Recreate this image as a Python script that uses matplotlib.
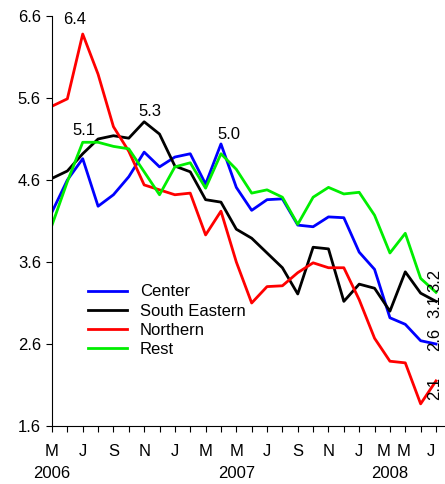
import matplotlib
matplotlib.use('Agg')
import matplotlib.pyplot as plt
import numpy as np

plt.rcParams['font.family'] = ['Liberation Sans', 'DejaVu Sans']

# monthly series, May 2006 .. Jun 2008
months = np.arange(26)
center = [4.21, 4.60, 4.86, 4.28, 4.42, 4.64, 4.94, 4.76, 4.88, 4.92, 4.55, 5.04, 4.51,
          4.23, 4.36, 4.37, 4.05, 4.03, 4.15, 4.14, 3.72, 3.51, 2.92, 2.84, 2.64, 2.60]
south_eastern = [4.62, 4.71, 4.92, 5.10, 5.14, 5.11, 5.31, 5.16, 4.77, 4.70, 4.36, 4.33, 4.00,
                 3.89, 3.71, 3.53, 3.21, 3.78, 3.76, 3.12, 3.33, 3.28, 3.00, 3.48, 3.22, 3.12]
northern = [5.50, 5.59, 6.38, 5.89, 5.25, 4.95, 4.54, 4.48, 4.42, 4.44, 3.93, 4.22, 3.60,
            3.10, 3.30, 3.31, 3.47, 3.59, 3.53, 3.53, 3.14, 2.67, 2.39, 2.37, 1.87, 2.15]
rest = [4.05, 4.58, 5.06, 5.06, 5.01, 4.98, 4.70, 4.42, 4.76, 4.81, 4.50, 4.92, 4.73,
        4.44, 4.48, 4.39, 4.06, 4.39, 4.51, 4.43, 4.45, 4.17, 3.71, 3.95, 3.40, 3.23]

month_labels = ['M', 'J', 'S', 'N', 'J', 'M', 'M', 'J', 'S', 'N', 'J', 'M', 'M', 'J']
month_pos = [0, 2, 4, 6, 8, 10, 12, 14, 16, 18, 20, 21.6, 22.9, 24.7]
year_labels = ['2006', '2007', '2008']
year_pos = [0, 12, 22]

# peak annotations: (text, x, y)
peaks = [('6.4', 1.5, 6.56), ('5.1', 2.08, 5.20), ('5.3', 6.38, 5.44), ('5.0', 11.52, 5.16)]
# last values, written sideways at the right edge
ends = [('3.2', 3.38), ('3.1', 3.06), ('2.6', 2.66), ('2.1', 2.06)]

fig = plt.figure(figsize=(4.45, 4.84), dpi=100)
ax = fig.add_axes([52/445, 1 - 426/484, 393/445, 410/484])

ax.plot(months, center, color='blue', lw=2, label='Center')
ax.plot(months, south_eastern, color='black', lw=2, label='South Eastern')
ax.plot(months, northern, color='red', lw=2, label='Northern')
ax.plot(months, rest, color='#00ee00', lw=2, label='Rest')

ax.set_xlim(0, 393/15.36)
ax.set_ylim(1.6, 6.6)
ax.set_yticks([1.6, 2.6, 3.6, 4.6, 5.6, 6.6])
ax.set_yticklabels(['1.6', '2.6', '3.6', '4.6', '5.6', '6.6'])
ax.set_xticks(months)
ax.set_xticklabels([])
ax.tick_params(length=4.5, width=0.8, labelsize=12, direction='out')

for s in ['top', 'right']:
    ax.spines[s].set_visible(False)
ax.spines['left'].set_linewidth(0.8)
ax.spines['bottom'].set_linewidth(0.8)

tr = ax.get_xaxis_transform()
for lab, p in zip(month_labels, month_pos):
    ax.text(p, -26/410, lab, transform=tr, ha='center', va='center', fontsize=12, clip_on=False)
for lab, p in zip(year_labels, year_pos):
    ax.text(p, -47/410, lab, transform=tr, ha='center', va='center', fontsize=12, clip_on=False)

for t, x, y in peaks:
    ax.text(x, y, t, ha='center', va='center', fontsize=12)

for t, y in ends:
    ax.text(24.92, y, t, rotation=90, ha='center', va='center', fontsize=12, clip_on=False)

ax.legend(loc='upper left', bbox_to_anchor=(28/393, 150/410), frameon=False, fontsize=12,
          handlelength=2.3, handletextpad=0.8, labelspacing=0.25, borderpad=0)

plt.savefig('out.png', dpi=100)
